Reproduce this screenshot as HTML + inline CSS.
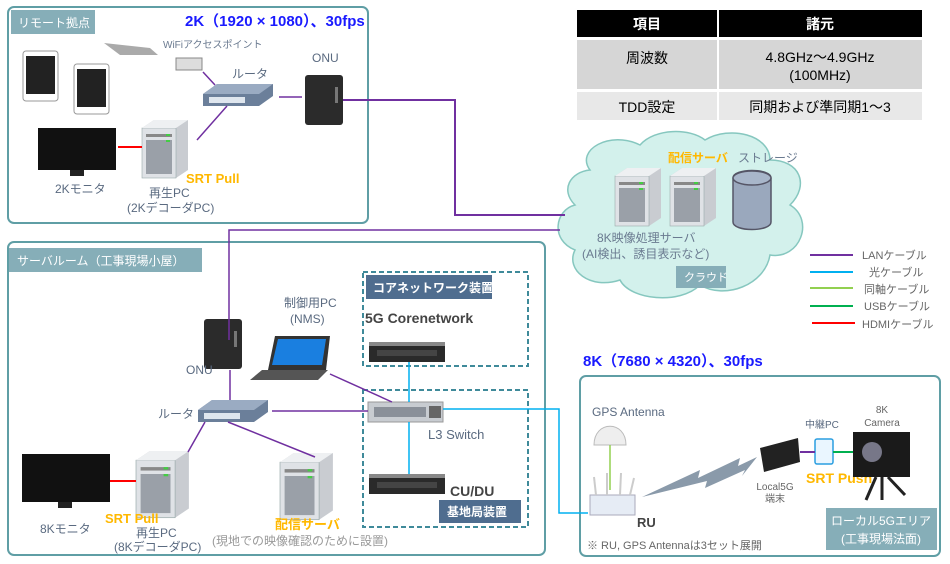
<!DOCTYPE html>
<html><head><meta charset="utf-8"><style>
body{margin:0;background:#fff}
svg{display:block;font-family:"Liberation Sans","Noto Sans CJK JP",sans-serif}
</style></head><body>
<svg width="950" height="564" viewBox="0 0 950 564" xmlns="http://www.w3.org/2000/svg">
<defs>
<g id="srv">
<path d="M0,8 L12,0 L46,0 L46,50 L34,58 L0,58 Z" fill="#c9ccd1"/>
<rect x="0" y="8" width="34" height="50" fill="#dfe2e6" stroke="#9aa" stroke-width="0.6"/>
<path d="M0,8 L12,0 L46,0 L34,8 Z" fill="#eef0f2"/>
<rect x="4" y="14" width="26" height="3" fill="#888"/>
<rect x="4" y="20" width="26" height="34" fill="#9aa0a8"/>
<rect x="24" y="14" width="4" height="2" fill="#4c4"/>
<rect x="24" y="20" width="4" height="2" fill="#4c4"/>
</g>
<g id="rtr">
<path d="M0,10 L14,0 L70,0 L70,12 L56,22 L0,22 Z" fill="#6b7f9a"/>
<path d="M0,10 L14,0 L70,0 L56,10 Z" fill="#9aabc2"/>
<rect x="6" y="13" width="36" height="6" fill="#dfe6ee"/>
</g>
<g id="onu"><rect x="0" y="0" width="38" height="50" rx="3" fill="#2b2b2b"/><rect x="30" y="12" width="3" height="16" fill="#777"/></g>
<g id="rack"><rect x="0" y="0" width="76" height="20" fill="#2a2a2a"/><rect x="0" y="0" width="76" height="4" fill="#888"/><rect x="8" y="8" width="60" height="6" fill="#444"/></g>
</defs>

<!-- remote box -->
<rect x="8" y="7" width="360" height="216" rx="6" fill="#fff" stroke="#5f9ea5" stroke-width="2"/>
<rect x="11" y="10" width="84" height="24" fill="#86aeb8"/>
<text x="18" y="27" font-size="12" fill="#fff">リモート拠点</text>
<text x="185" y="26" font-size="15" font-weight="bold" fill="#1a1aff">2K（1920 × 1080）、30fps</text>
<rect x="23" y="51" width="35" height="50" rx="3" fill="#fff" stroke="#999"/><rect x="26" y="56" width="29" height="38" fill="#222"/>
<rect x="74" y="64" width="35" height="50" rx="3" fill="#fff" stroke="#999"/><rect x="77" y="69" width="29" height="38" fill="#222"/>
<path d="M104,43 L150,48 L158,55 L120,55 Z" fill="#aaa"/>
<text x="163" y="48" font-size="10" fill="#6a7a90">WiFiアクセスポイント</text>
<rect x="176" y="58" width="26" height="12" fill="#ddd" stroke="#888"/>
<text x="232" y="78" font-size="12" fill="#5a6a80">ルータ</text>
<use href="#rtr" x="203" y="84"/>
<text x="312" y="62" font-size="12" fill="#5a6a80">ONU</text>
<use href="#onu" x="305" y="75"/>
<rect x="38" y="128" width="78" height="42" fill="#111"/><rect x="70" y="170" width="14" height="6" fill="#222"/>
<text x="55" y="193" font-size="12" fill="#5a6a80">2Kモニタ</text>
<use href="#srv" x="142" y="120"/>
<text x="186" y="183" font-size="13" font-weight="bold" fill="#ffb800">SRT Pull</text>
<text x="149" y="197" font-size="12" fill="#5a6a80">再生PC</text>
<text x="127" y="212" font-size="12" fill="#5a6a80">(2KデコーダPC)</text>

<!-- table -->
<rect x="577" y="10" width="140" height="27" fill="#000"/><rect x="719" y="10" width="203" height="27" fill="#000"/>
<text x="647" y="29" font-size="14" font-weight="bold" fill="#fff" text-anchor="middle">項目</text>
<text x="820" y="29" font-size="14" font-weight="bold" fill="#fff" text-anchor="middle">諸元</text>
<rect x="577" y="40" width="140" height="49" fill="#d6d6d6"/><rect x="719" y="40" width="203" height="49" fill="#d6d6d6"/>
<text x="647" y="63" font-size="14" text-anchor="middle">周波数</text>
<text x="820" y="62" font-size="14" text-anchor="middle">4.8GHz～4.9GHz</text>
<text x="820" y="80" font-size="14" text-anchor="middle">(100MHz)</text>
<rect x="577" y="92" width="140" height="28" fill="#e8e8e8"/><rect x="719" y="92" width="203" height="28" fill="#e8e8e8"/>
<text x="647" y="112" font-size="14" text-anchor="middle">TDD設定</text>
<text x="820" y="112" font-size="14" text-anchor="middle">同期および準同期1～3</text>

<!-- cloud -->
<path d="M590,170 C575,150 610,130 640,145 C655,128 690,128 705,140 C730,125 770,135 770,160 C800,160 810,185 790,205 C815,220 800,260 770,255 C765,285 725,300 700,285 C680,305 630,300 620,280 C590,290 565,270 575,250 C550,240 555,210 575,205 C560,190 570,172 590,170 Z" fill="#d3f1ec" stroke="#86c7bf" stroke-width="1.5"/>
<text x="668" y="162" font-size="12" font-weight="bold" fill="#ffb800">配信サーバ</text>
<text x="738" y="162" font-size="12" fill="#6a7a90">ストレージ</text>
<use href="#srv" x="615" y="168"/><use href="#srv" x="670" y="168"/>
<path d="M733,178 C733,168 771,168 771,178 L771,222 C771,232 733,232 733,222 Z" fill="#9aa8bd" stroke="#556" stroke-width="1.5"/>
<ellipse cx="752" cy="178" rx="19" ry="7" fill="#a8b6ca" stroke="#556" stroke-width="1.5"/>
<text x="597" y="242" font-size="12" fill="#6a7a90">8K映像処理サーバ</text>
<text x="582" y="258" font-size="12" fill="#6a7a90">(AI検出、誘目表示など)</text>
<rect x="676" y="266" width="50" height="22" fill="#86aeb8"/>
<text x="684" y="281" font-size="11" fill="#fff">クラウド</text>

<!-- legend -->
<g stroke-width="2">
<line x1="810" y1="255" x2="853" y2="255" stroke="#7030a0"/>
<line x1="810" y1="272" x2="853" y2="272" stroke="#00b0f0"/>
<line x1="810" y1="288" x2="853" y2="288" stroke="#92d050"/>
<line x1="810" y1="306" x2="853" y2="306" stroke="#00b050"/>
<line x1="812" y1="323" x2="855" y2="323" stroke="#ff0000"/>
</g>
<g font-size="11" fill="#666"><text x="862" y="259">LANケーブル</text><text x="869" y="276">光ケーブル</text><text x="864" y="293">同軸ケーブル</text><text x="864" y="310">USBケーブル</text><text x="862" y="328">HDMIケーブル</text></g>

<!-- server room -->
<rect x="8" y="242" width="537" height="313" rx="6" fill="none" stroke="#5f9ea5" stroke-width="2"/>
<rect x="9" y="248" width="193" height="24" fill="#86aeb8"/>
<text x="17" y="265" font-size="12" fill="#fff">サーバルーム（工事現場小屋）</text>
<rect x="363" y="272" width="165" height="94" fill="none" stroke="#3f8a9a" stroke-width="2" stroke-dasharray="5,3"/>
<rect x="366" y="275" width="126" height="24" fill="#4f6d8f"/>
<text x="373" y="292" font-size="12" font-weight="bold" fill="#fff">コアネットワーク装置</text>
<text x="365" y="323" font-size="14" font-weight="bold" fill="#444">5G Corenetwork</text>
<use href="#rack" x="369" y="342"/>
<rect x="363" y="390" width="165" height="137" fill="none" stroke="#3f8a9a" stroke-width="2" stroke-dasharray="5,3"/>
<rect x="439" y="500" width="82" height="23" fill="#4f6d8f"/>
<text x="447" y="516" font-size="12" font-weight="bold" fill="#fff">基地局装置</text>
<rect x="368" y="402" width="75" height="20" fill="#c8ccd1" stroke="#999"/><rect x="374" y="407" width="52" height="10" fill="#8a9099"/><rect x="429" y="406" width="12" height="12" fill="#666"/>
<text x="428" y="439" font-size="13" fill="#5a6a80">L3 Switch</text>
<use href="#rack" x="369" y="474"/>
<text x="450" y="496" font-size="14" font-weight="bold" fill="#444">CU/DU</text>

<text x="284" y="307" font-size="12" fill="#5a6a80">制御用PC</text>
<text x="290" y="323" font-size="12" fill="#5a6a80">(NMS)</text>
<path d="M275,336 L330,336 L326,370 L268,370 Z" fill="#333"/><path d="M278,339 L326,339 L322,365 L272,365 Z" fill="#1a7fe0"/>
<path d="M262,370 L328,370 L318,380 L250,380 Z" fill="#555"/>
<use href="#onu" x="204" y="319"/>
<text x="186" y="374" font-size="12" fill="#5a6a80">ONU</text>
<text x="158" y="418" font-size="12" fill="#5a6a80">ルータ</text>
<use href="#rtr" x="198" y="400"/>
<rect x="22" y="454" width="88" height="48" fill="#111"/><rect x="58" y="502" width="14" height="6" fill="#222"/>
<text x="40" y="533" font-size="12" fill="#5a6a80">8Kモニタ</text>
<use href="#srv" x="136" y="451" transform="translate(136,451) scale(1.15) translate(-136,-451)"/>
<text x="105" y="523" font-size="13" font-weight="bold" fill="#ffb800">SRT Pull</text>
<text x="136" y="537" font-size="12" fill="#5a6a80">再生PC</text>
<text x="114" y="551" font-size="12" fill="#5a6a80">(8KデコーダPC)</text>
<use href="#srv" x="280" y="453" transform="translate(280,453) scale(1.15) translate(-280,-453)"/>
<text x="275" y="529" font-size="13" font-weight="bold" fill="#ffb800">配信サーバ</text>
<text x="212" y="545" font-size="12" fill="#999">(現地での映像確認のために設置)</text>

<!-- local 5G -->
<text x="583" y="366" font-size="15" font-weight="bold" fill="#1a1aff">8K（7680 × 4320）、30fps</text>
<rect x="580" y="376" width="360" height="180" rx="6" fill="none" stroke="#5f9ea5" stroke-width="2"/>
<text x="592" y="416" font-size="12" fill="#5a6a80">GPS Antenna</text>
<path d="M594,445 C594,420 626,420 626,445 Z" fill="#eee" stroke="#bbb"/>
<rect x="590" y="495" width="45" height="20" fill="#e6ecf5" stroke="#aab"/>
<g stroke="#ccc" stroke-width="2"><line x1="596" y1="495" x2="594" y2="477"/><line x1="607" y1="495" x2="607" y2="473"/><line x1="620" y1="495" x2="621" y2="473"/><line x1="630" y1="495" x2="634" y2="478"/></g>
<text x="637" y="527" font-size="13" font-weight="bold" fill="#444">RU</text>
<text x="587" y="549" font-size="11" fill="#666">※ RU, GPS Antennaは3セット展開</text>
<path d="M642,497 L700,470 L698,478 L740,458 L738,466 L757,457 L742,476 L745,470 L705,488 L707,481 Z" fill="#8a9aaa"/>
<path d="M760,448 L798,438 L800,462 L764,472 Z" fill="#222"/>
<text x="775" y="490" font-size="10" fill="#666" text-anchor="middle">Local5G</text>
<text x="775" y="502" font-size="10" fill="#666" text-anchor="middle">端末</text>
<text x="805" y="428" font-size="10" fill="#5a6a80">中継PC</text>
<rect x="815" y="439" width="18" height="25" rx="2" fill="#eaf6ff" stroke="#2a9ee0" stroke-width="1.5"/>
<text x="806" y="483" font-size="14" font-weight="bold" fill="#ffb800">SRT Push</text>
<text x="882" y="413" font-size="10" fill="#666" text-anchor="middle">8K</text>
<text x="882" y="426" font-size="10" fill="#666" text-anchor="middle">Camera</text>
<rect x="853" y="432" width="57" height="45" fill="#1a1a1a"/><circle cx="872" cy="452" r="10" fill="#778"/>
<path d="M876,477 L866,500 M882,477 L882,500 M888,477 L905,495" stroke="#222" stroke-width="3"/>
<rect x="826" y="508" width="111" height="42" fill="#86aeb8"/>
<text x="881" y="525" font-size="12" fill="#fff" text-anchor="middle">ローカル5Gエリア</text>
<text x="881" y="543" font-size="12" fill="#fff" text-anchor="middle">(工事現場法面)</text>

<!-- connectors -->
<g fill="none" stroke-width="2">
<path d="M343,100 L455,100 L455,215 L565,215" stroke="#7030a0"/>
<path d="M279,97 L302,97 M203,72 L215,85 M227,106 L197,140" stroke="#7030a0" stroke-width="1.5"/>
<path d="M118,147 L142,147" stroke="#ff0000"/>
<path d="M560,230 L229,230 L229,340" stroke="#7030a0" stroke-width="1.5"/>
<path d="M230,370 L230,400 M272,411 L368,411 M330,374 L392,402 M205,422 L188,452 M228,422 L315,457" stroke="#7030a0" stroke-width="1.5"/>
<path d="M110,481 L136,481" stroke="#ff0000"/>
<path d="M409,362 L409,402 M409,422 L409,474 M443,409 L559,409 L559,513 L588,513" stroke="#00b0f0" stroke-width="1.5"/>
<path d="M610,445 L610,490" stroke="#92d050" stroke-width="1.5"/>
<path d="M800,452 L815,452" stroke="#7030a0"/>
<path d="M833,452 L853,452" stroke="#00b050"/>
</g>
</svg>
</body></html>
